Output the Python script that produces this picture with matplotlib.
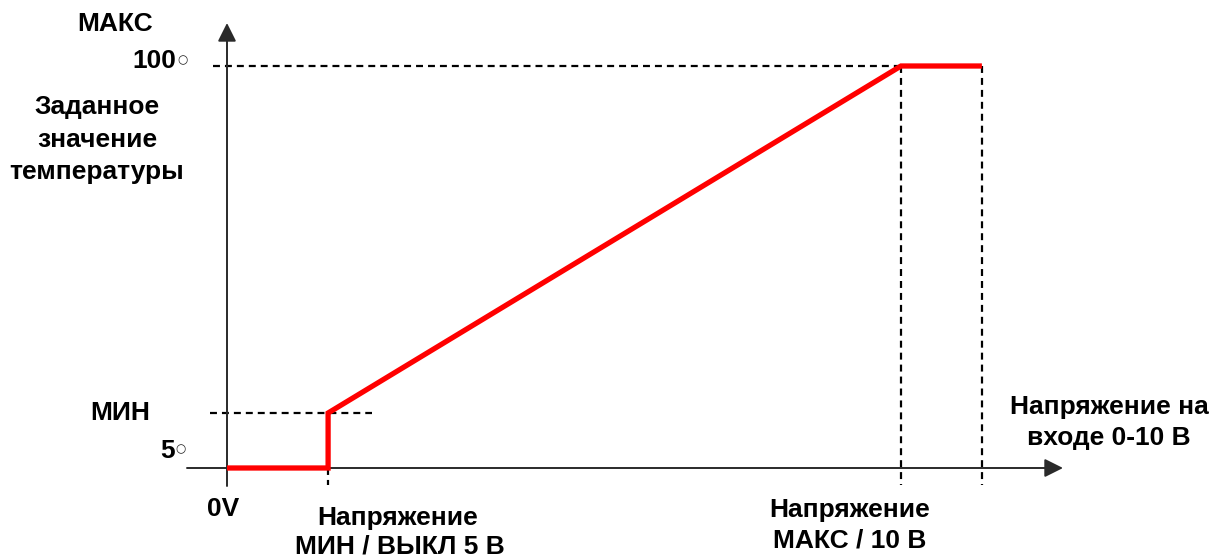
import matplotlib
matplotlib.use("Agg")
import matplotlib.pyplot as plt

plt.rcParams['font.family'] = ['Liberation Sans', 'DejaVu Sans']
plt.rcParams['lines.scale_dashes'] = False

### ------------------- Data -------------------

# input voltage (schematic units, 10 = MAX) and temperature setpoint
volt = [0, 1.5, 1.5, 10, 11.2]
temp = [5, 5, 18, 100, 100]

v_min, v_max, v_end = 1.5, 10, 11.2
t_low, t_min, t_max = 5, 18, 100

### ------------------- Layout -------------------

W, H, DPI = 1223, 558, 100
# pixel anchors: where x=0 / x=10 and t=5 / t=100 sit in the picture
PX0, PX10 = 227, 901
PY5, PY100 = 468, 66
sx = (PX10 - PX0) / 10.0
sy = (PY5 - PY100) / 95.0

def fx(px):
    return (px - PX0) / sx

def fy(py):
    return 5 + (PY5 - py) / sy

fig = plt.figure(figsize=(W / DPI, H / DPI), dpi=DPI)
ax = fig.add_axes([0, 0, 1, 1])
ax.set_xlim(fx(0), fx(W))
ax.set_ylim(fy(H), fy(0))
ax.axis('off')

axis_col = '#2a2a2a'
dash = (0, (5.0, 3.6))
dlw = 1.6

# axes with arrow heads
arrow = dict(arrowstyle='-|>', color=axis_col, lw=1.4,
             mutation_scale=28, shrinkA=0, shrinkB=0)
ax.annotate('', xy=(fx(1063), t_low), xytext=(fx(187), t_low), arrowprops=arrow)
ax.annotate('', xy=(0, fy(23)), xytext=(0, fy(486)), arrowprops=arrow)

# dashed guide lines
bottom = fy(485)
ax.plot([fx(213), v_max], [t_max, t_max], color='k', lw=dlw, ls=dash)
ax.plot([fx(210), fx(372)], [t_min, t_min], color='k', lw=dlw, ls=dash)
for v in (v_max, v_end):
    ax.plot([v, v], [t_max, bottom], color='k', lw=dlw, ls=dash)
ax.plot([v_min, v_min], [t_low, bottom], color='k', lw=dlw, ls=dash)

# setpoint curve
ax.plot(volt, temp, color='#ff0000', lw=3.8, solid_joinstyle='miter',
        solid_capstyle='butt', zorder=5)

### ------------------- Labels -------------------

def label(px, py, s, ha='center', size=19):
    fig.text(px / W, 1 - py / H, s, ha=ha, va='center', fontsize=size,
             fontweight='bold', color='k')

def ring(px, py):
    fig.text(px / W, 1 - py / H, '○', ha='center', va='center', fontsize=8.5,
             family='DejaVu Sans', color='#222222')

label(115, 24, 'МАКС')
label(176, 61, '100', ha='right')
ring(182, 60)
label(97, 107, 'Заданное')
label(97, 140, 'значение')
label(97, 172, 'температуры')
label(120, 413, 'МИН')
label(175, 451, '5', ha='right')
ring(180, 449)
label(223, 509, '0V')
label(398, 518, 'Напряжение')
label(400, 547, 'МИН / ВЫКЛ 5 В')
label(850, 510, 'Напряжение')
label(850, 541, 'МАКС / 10 В')
label(1109, 407, 'Напряжение на')
label(1109, 438, 'входе 0-10 В')

fig.savefig('out.png', dpi=DPI)
